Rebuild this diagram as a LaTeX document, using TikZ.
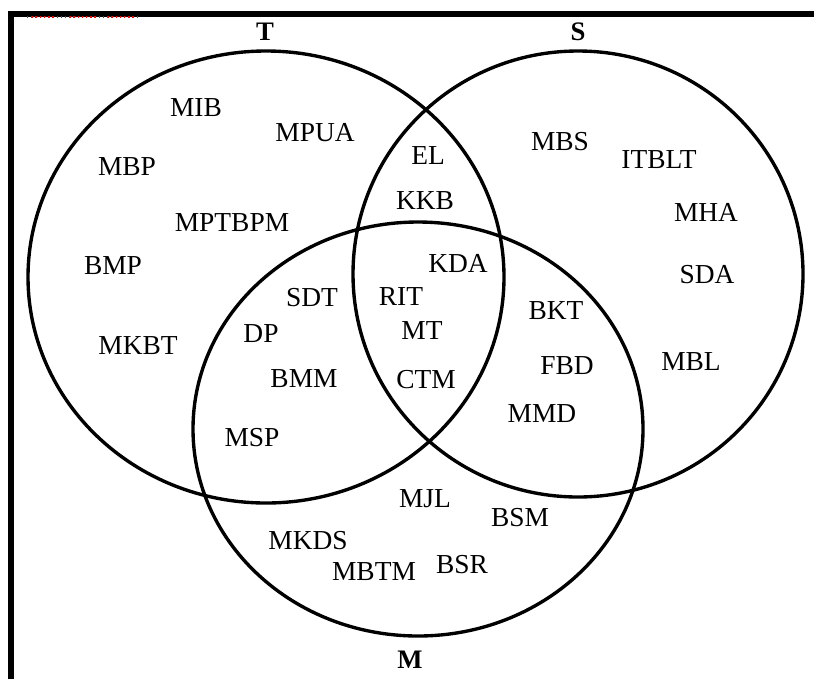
\documentclass[tikz,border=0pt]{standalone}
\usepackage{fontspec}
\setmainfont{Liberation Serif}
\usepackage{tikz}

\begin{document}
\begin{tikzpicture}[x=0.025cm,y=-0.025cm,
  item/.style={draw=none,fill=none,inner sep=0pt,font=\fontsize{19.5}{21}\selectfont},
  setname/.style={draw=none,fill=none,inner sep=0pt,font=\fontsize{19}{21}\selectfont\bfseries},
  ring/.style={line width=2.4pt}]
  \useasboundingbox (0,0) rectangle (814,679);

  % Frame
  \draw[line width=4.6pt] (11,679) -- (11,14) -- (814,14);
  \draw[red,dotted,line width=1pt] (27,17) -- (139,17);

  % Sets
  \draw[ring] (266,277) ellipse [x radius=238, y radius=226];
  \draw[ring] (578,274) ellipse [x radius=225, y radius=223];
  \draw[ring] (418,429) ellipse [x radius=225, y radius=207];
  \node[setname] (T) at (265,32) {T};
  \node[setname] (S) at (578,32) {S};
  \node[setname] (M) at (410,660) {M};

  % T only
  \node[item] (mib) at (196,108) {MIB};
  \node[item] (mpua) at (315,133) {MPUA};
  \node[item] (mbp) at (127,167) {MBP};
  \node[item] (mptbpm) at (232,223) {MPTBPM};
  \node[item] (bmp) at (113,266) {BMP};
  \node[item] (mkbt) at (138,346) {MKBT};

  % T and S
  \node[item] (el) at (428,156) {EL};
  \node[item] (kkb) at (425,201) {KKB};

  % S only
  \node[item] (mbs) at (560,142) {MBS};
  \node[item] (itblt) at (659,160) {ITBLT};
  \node[item] (mha) at (706,212) {MHA};
  \node[item] (sda) at (707,275) {SDA};
  \node[item] (mbl) at (691,362) {MBL};

  % T and M
  \node[item] (sdt) at (312,298) {SDT};
  \node[item] (dp) at (261,334) {DP};
  \node[item] (bmm) at (304,379) {BMM};
  \node[item] (msp) at (252,438) {MSP};

  % T, S and M
  \node[item] (kda) at (458,263) {KDA};
  \node[item] (rit) at (401,297) {RIT};
  \node[item] (mt) at (422,331) {MT};
  \node[item] (ctm) at (426,380) {CTM};

  % S and M
  \node[item] (bkt) at (556,311) {BKT};
  \node[item] (fbd) at (567,366) {FBD};
  \node[item] (mmd) at (542,414) {MMD};

  % M only
  \node[item] (mjl) at (425,499) {MJL};
  \node[item] (bsm) at (520,518) {BSM};
  \node[item] (mkds) at (308,541) {MKDS};
  \node[item] (mbtm) at (374,572) {MBTM};
  \node[item] (bsr) at (462,565) {BSR};
\end{tikzpicture}
\end{document}
